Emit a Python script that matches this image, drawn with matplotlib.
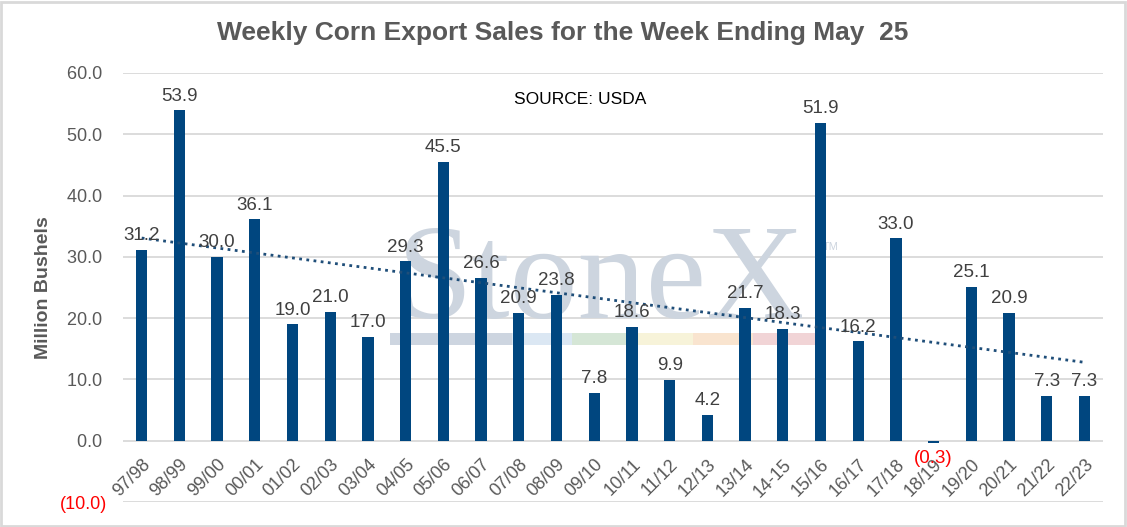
import numpy as np
import matplotlib
matplotlib.use("Agg")
import matplotlib.pyplot as plt
from matplotlib.patches import Rectangle
from matplotlib.ticker import FuncFormatter

# ---------------- DATA ---------------- #

seasons = ["97/98", "98/99", "99/00", "00/01", "01/02", "02/03", "03/04", "04/05",
           "05/06", "06/07", "07/08", "08/09", "09/10", "10/11", "11/12", "12/13",
           "13/14", "14-15", "15/16", "16/17", "17/18", "18/19", "19/20", "20/21",
           "21/22", "22/23"]
sales = [31.2, 53.9, 30.0, 36.1, 19.0, 21.0, 17.0, 29.3, 45.5, 26.6, 20.9, 23.8, 7.8,
         18.6, 9.9, 4.2, 21.7, 18.3, 51.9, 16.2, 33.0, -0.3, 25.1, 20.9, 7.3, 7.3]
y_ticks = [-10, 0, 10, 20, 30, 40, 50, 60]

TITLE = "Weekly Corn Export Sales for the Week Ending May  25"
SOURCE = "SOURCE: USDA"

BAR_COLOR = "#00467f"
TEXT_GRAY = "#595959"
GRID_GRAY = "#d9d9d9"
MARK_GRAY = "#cdd5df"

plt.rcParams["font.family"] = ["Liberation Sans", "DejaVu Sans"]

# ---------------- FIGURE ---------------- #

W, H = 1127, 527
fig = plt.figure(figsize=(W / 100, H / 100), dpi=100)
ax = fig.add_axes([0.109, 0.0474, 0.870, 0.8141])

x = np.arange(len(seasons))

# category axis crosses at zero (set before tick labels, it resets them)
ax.spines["bottom"].set_position(("data", 0))
for s in ax.spines.values():
    s.set_visible(False)

# StoneX watermark, behind the bars
ax.text(601 / W, 1 - 318 / H, "StoneX", transform=fig.transFigure, fontsize=98,
        family="Liberation Serif", color=MARK_GRAY, ha="center", va="baseline",
        zorder=0.6)
ax.text(823 / W, 1 - 247 / H, "TM", transform=fig.transFigure, fontsize=8,
        color=MARK_GRAY, ha="left", va="center", zorder=0.6)
stripe = [("#cdd5e0", 390, 512), ("#dbe7f3", 512, 572), ("#d5e6d6", 572, 633),
          ("#f7f3d9", 633, 693), ("#f9e4cf", 693, 753), ("#f1d4d6", 753, 815)]
for col, x0, x1 in stripe:
    ax.add_patch(Rectangle((x0 / W, 1 - 345 / H), (x1 - x0) / W, 12 / H,
                           transform=fig.transFigure, facecolor=col,
                           edgecolor="none", zorder=0.7))

ax.bar(x, sales, width=0.3, color=BAR_COLOR, zorder=3)

# linear trendline
coef = np.polyfit(x, sales, 1)
ax.plot(x, np.polyval(coef, x), linestyle=(0, (1, 1.6)), color="#1f4e79",
        linewidth=2, zorder=4)

# value labels
for xi, v in zip(x, sales):
    if v < 0:
        ax.annotate(f"({abs(v):.1f})", (xi, v), xytext=(0, -5),
                    textcoords="offset points", ha="center", va="top",
                    fontsize=13.5, color="red", zorder=5)
    else:
        ax.annotate(f"{v:.1f}", (xi, v), xytext=(0, 4),
                    textcoords="offset points", ha="center", va="bottom",
                    fontsize=13.5, color="#404040", zorder=5)

# axes styling
ax.set_xlim(-0.5, len(seasons) - 0.5)
ax.set_ylim(-10, 60)
ax.set_yticks(y_ticks)


def fmt(v, pos):
    if v < 0:
        return f"({abs(v):.1f})"
    return f"{v:.1f} "


ax.yaxis.set_major_formatter(FuncFormatter(fmt))
ax.tick_params(axis="y", length=0, pad=11, labelsize=13, labelcolor=TEXT_GRAY)
for lab in ax.get_yticklabels():
    if lab.get_text().startswith("("):
        lab.set_color("red")

ax.set_xticks(x)
ax.set_xticklabels(seasons, rotation=45, ha="right", va="top",
                   rotation_mode="anchor", fontsize=13, color=TEXT_GRAY)
ax.tick_params(axis="x", length=0, pad=11)

ax.grid(axis="y", color=GRID_GRAY, linewidth=1.3, zorder=0.5)
ax.set_axisbelow(True)

ax.set_ylabel("Million Bushels", fontsize=14, fontweight="bold",
              color=TEXT_GRAY, labelpad=6)

fig.text(563 / W, 1 - 33 / H, TITLE, ha="center", va="center", fontsize=19,
         fontweight="bold", color=TEXT_GRAY)
fig.text(580 / W, 1 - 100 / H, SOURCE, ha="center", va="center", fontsize=12.5,
         color="black")

# outer border
fig.patches.append(Rectangle((0.001, 0.002), 0.997, 0.995,
                             transform=fig.transFigure, fill=False,
                             edgecolor=GRID_GRAY, linewidth=2))

fig.savefig("out.png", dpi=100)
